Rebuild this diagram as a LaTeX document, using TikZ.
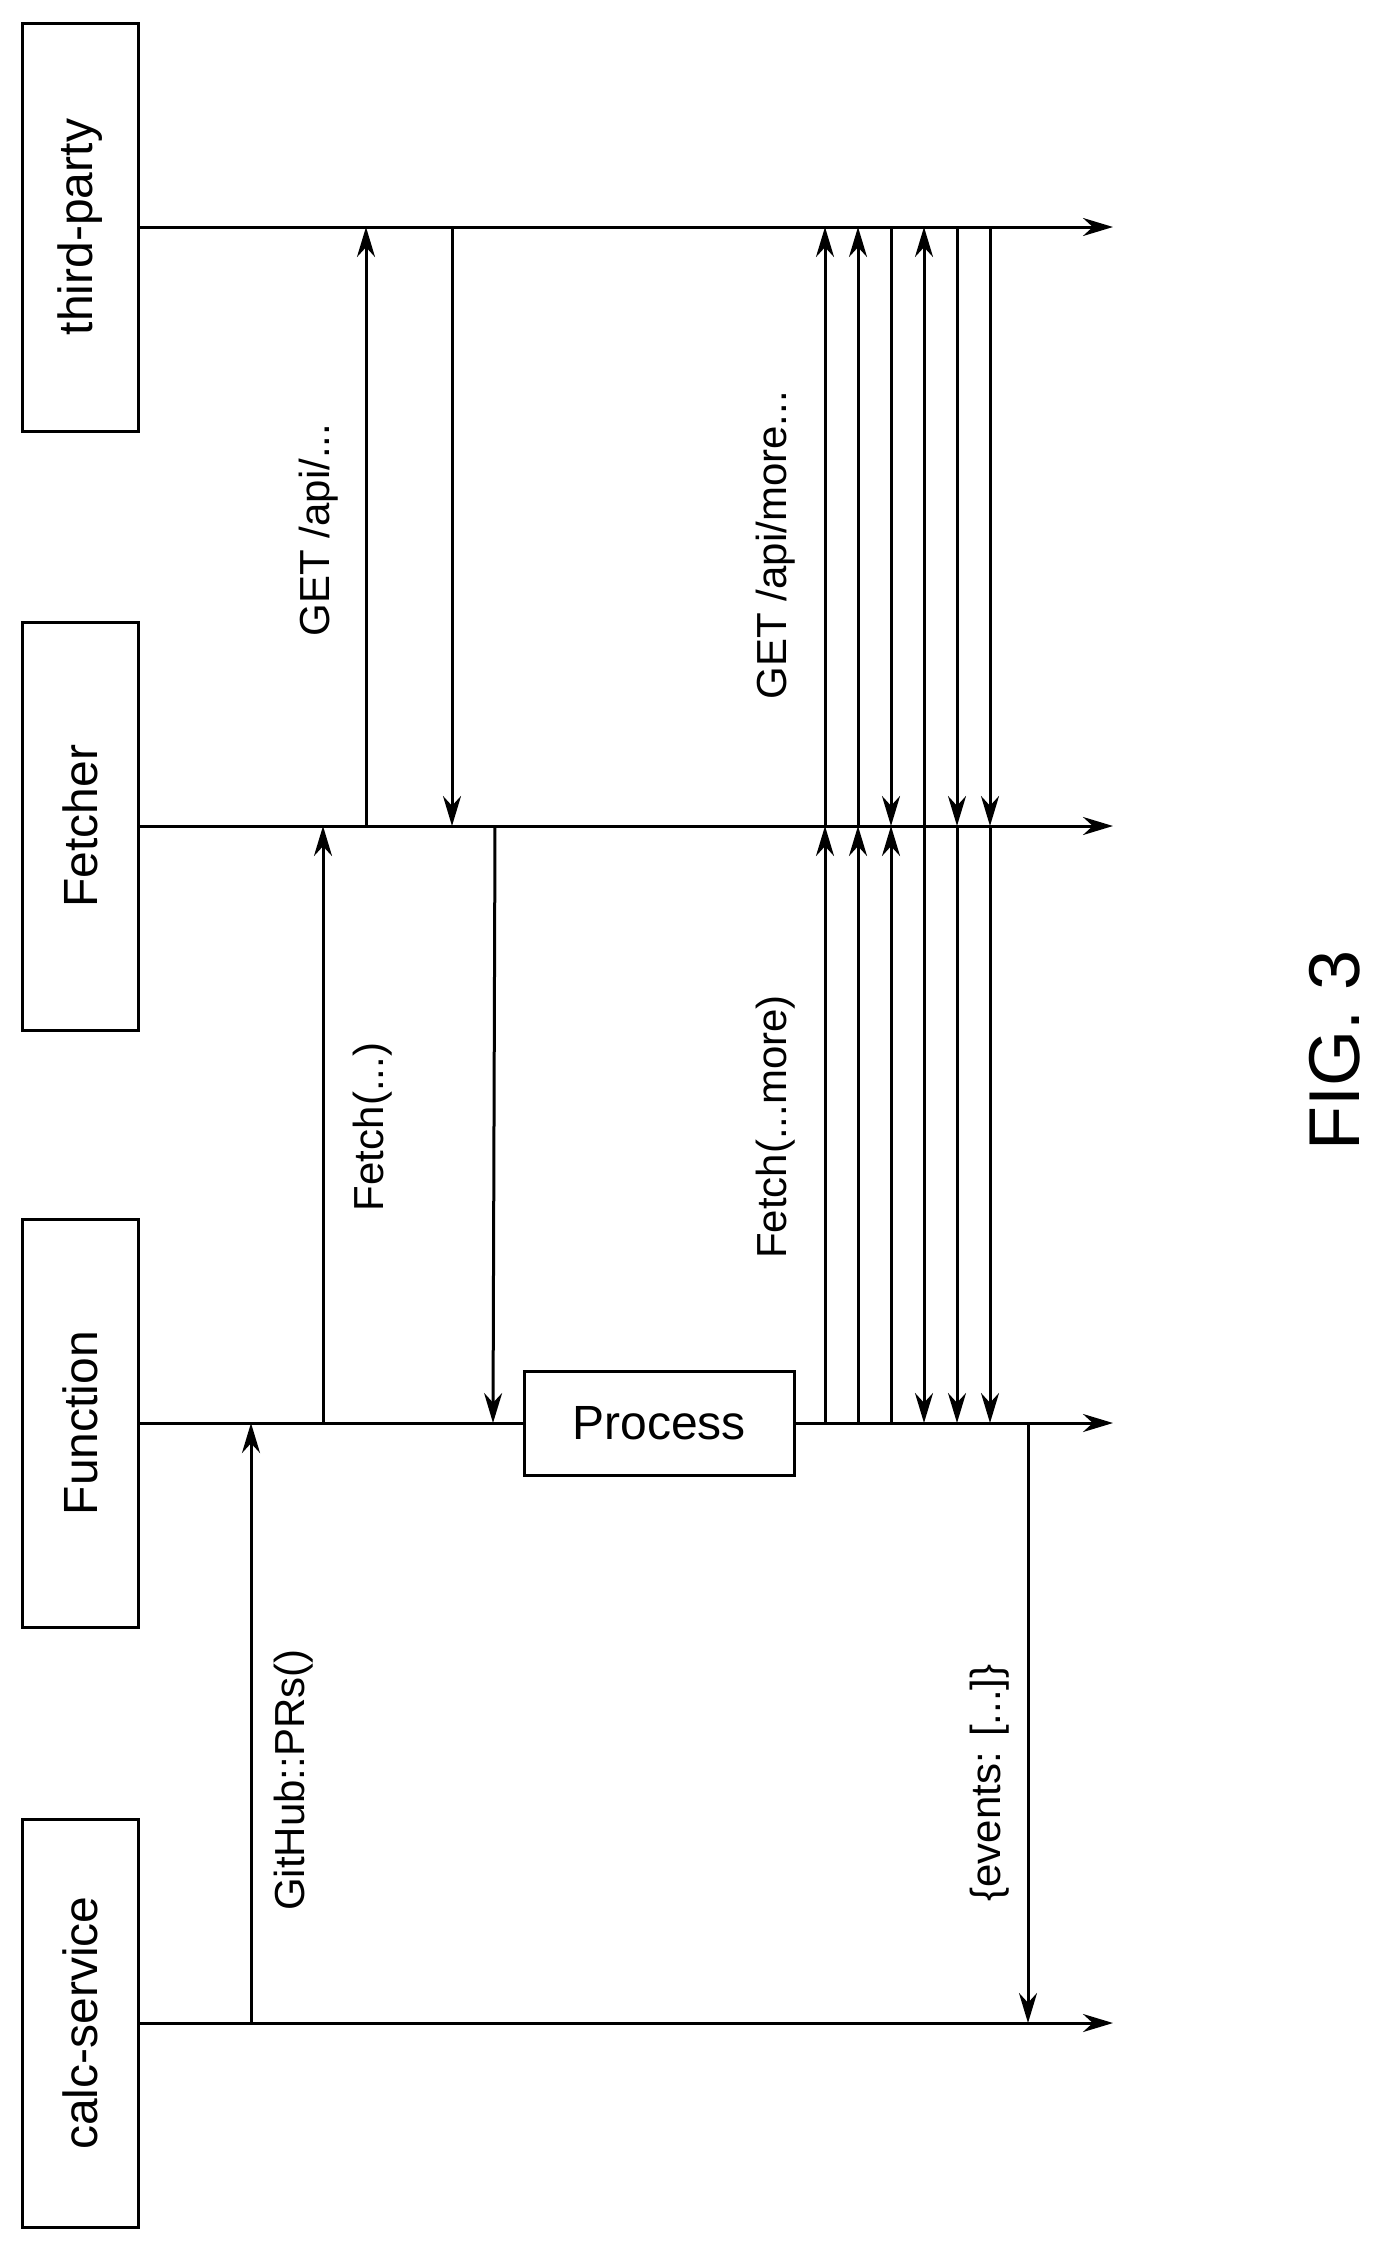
\documentclass[tikz,border=0pt]{standalone}
\usepackage{fontspec}
\setmainfont{Liberation Sans}
\usetikzlibrary{arrows.meta,positioning}
\tikzset{
  actor/.style={draw, line width=1.5pt, minimum width=204pt, minimum height=58pt, rotate=90, font=\fontsize{24}{28}\selectfont},
  life/.style={line width=1.5pt, -{Stealth[length=15pt,width=9pt]}},
  msg/.style={line width=1.5pt, -{Stealth[length=15pt,width=9pt]}},
  lbl/.style={rotate=90, font=\fontsize{21}{25}\selectfont, inner sep=0pt}
}
\begin{document}
\begin{tikzpicture}[x=0.5pt,y=-0.5pt]
  \useasboundingbox (0,0) rectangle (1393,2259);
  % actors
  \node[actor] (tp) at (80,227) {third-party};
  \node[actor] (fe) at (80,826) {Fetcher};
  \node[actor] (fn) at (80,1423) {Function};
  \node[actor] (cs) at (80,2023) {calc-service};
  % lifelines
  \foreach \n in {tp,fe,fn,cs} {
    \coordinate (\n-end) at (1113,0 |- \n);
    \draw[life] (\n.south) -- (\n-end);
  }
  \node[draw, line width=1.5pt, minimum width=135pt, minimum height=52pt, font=\fontsize{24}{28}\selectfont, fill=white] (proc) at (659,1423) {Process};
  % message x positions
  \foreach \i/\x in {a/251,b/323,c/366,d/452,e/495,m1/825,m2/858,m3/891,m4/924,m5/957,m6/990,r/1028}
    \coordinate (\i) at (\x,0);
  % first round
  \draw[msg] (a |- cs) -- (a |- fn);
  \draw[msg] (b |- fn) -- (b |- fe);
  \draw[msg] (c |- fe) -- (c |- tp);
  \draw[msg] (d |- tp) -- (d |- fe);
  \draw[msg] (e |- fe) -- ([xshift=-1pt]e |- proc.west);
  % more rounds
  \foreach \i in {m1,m2,m3} \draw[msg] (\i |- fn) -- (\i |- fe);
  \foreach \i in {m4,m5,m6} \draw[msg] (\i |- fe) -- (\i |- fn);
  \foreach \i in {m1,m2,m4} \draw[msg] (\i |- fe) -- (\i |- tp);
  \foreach \i in {m3,m5,m6} \draw[msg] (\i |- tp) -- (\i |- fe);
  \draw[msg] (r |- fn) -- (r |- cs);
  % labels
  \node[lbl] (l1) at (294,1780) {GitHub::PRs()};
  \node[lbl] (l2) at (373,1127) {Fetch(...)};
  \node[lbl] (l3) at (319,530) {GET /api/...};
  \node[lbl] (l4) at (776,545) {GET /api/more...};
  \node[lbl] (l5) at (776,1127) {Fetch(...more)};
  \node[lbl] (l6) at (990,1783) {\{events: [...]\}};
  \node[rotate=90, font=\fontsize{36}{40}\selectfont] (fig) at (1335,1050) {FIG. 3};
\end{tikzpicture}
\end{document}
